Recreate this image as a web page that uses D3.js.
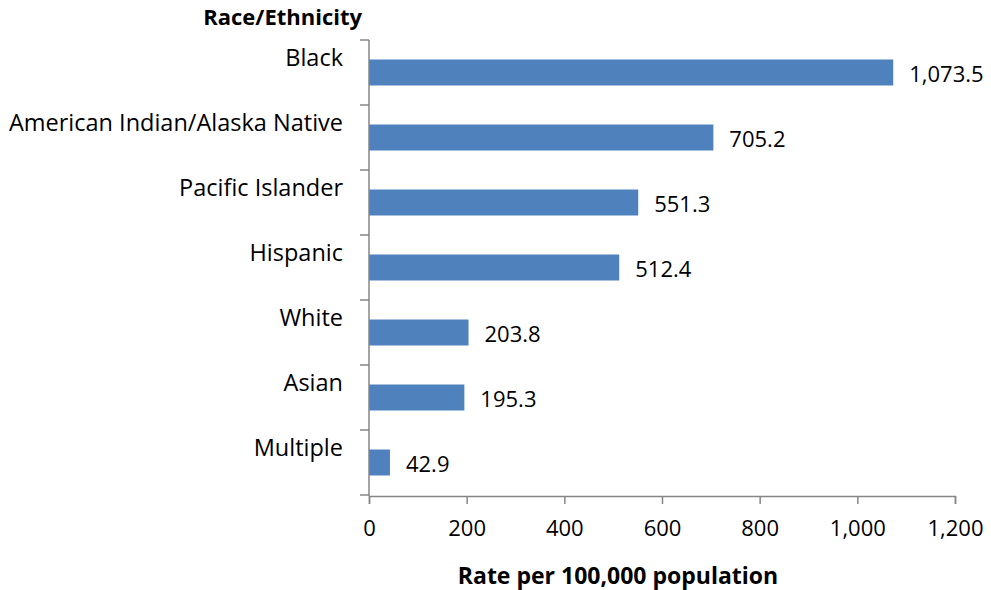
<!DOCTYPE html>
<html><head><meta charset="utf-8">
<script src="https://cdn.jsdelivr.net/npm/d3@7"></script>
<style>body{margin:0;background:#fff}svg{display:block}text{font-family:"Open Sans",sans-serif;fill:#000}</style>
</head><body>
<svg id="c" width="991" height="590"></svg>
<script>
const categories = ["Black","American Indian/Alaska Native","Pacific Islander","Hispanic","White","Asian","Multiple"];
const values = [1073.5,705.2,551.3,512.4,203.8,195.3,42.9];
const xTicks = [0,200,400,600,800,1000,1200];
const yTitle = "Race/Ethnicity";
const xTitle = "Rate per 100,000 population";

(function(){
const svg = d3.select("#c");
const L = 369, R = 955, T = 40, B = 495;
const FS = 22;
const x = d3.scaleLinear().domain([0,1200]).range([L,R]);
const y = d3.scaleBand().domain(categories).range([T,B]).paddingInner(0.6).paddingOuter(0.3);
const fmt = d3.format(",.1f");
const axisColor = "#868686";

svg.append("g").selectAll("rect").data(values).join("rect")
  .attr("x", x(0)).attr("y", (d,i)=>y(categories[i]))
  .attr("width", d=>x(d)-x(0)).attr("height", y.bandwidth())
  .attr("fill","#4F81BD");

svg.append("g").selectAll("text").data(values).join("text")
  .attr("x", d=>x(d)+16).attr("y",(d,i)=>y(categories[i])+y.bandwidth()/2+2)
  .attr("dy","0.35em").attr("font-size",FS).text(d=>fmt(d));

const xa = svg.append("g").attr("transform",`translate(0,${B+1})`)
  .call(d3.axisBottom(x).tickValues(xTicks).tickSize(8).tickPadding(16).tickFormat(d3.format(",")));
xa.selectAll("path,line").attr("stroke",axisColor).attr("stroke-width",1.5);
xa.selectAll("text").attr("font-size",FS).attr("font-family","'Open Sans',sans-serif").attr("fill","#000");

const bounds = d3.range(categories.length+1).map(i=>T+i*(B-T)/categories.length);
svg.append("line").attr("x1",L).attr("x2",L).attr("y1",T).attr("y2",B+1)
  .attr("stroke",axisColor).attr("stroke-width",1.5);
svg.append("g").selectAll("line").data(bounds).join("line")
  .attr("x1",L-9).attr("x2",L).attr("y1",d=>d).attr("y2",d=>d)
  .attr("stroke",axisColor).attr("stroke-width",1.5);

svg.append("g").selectAll("text").data(categories).join("text")
  .attr("x",343).attr("y",d=>y(d)+y.bandwidth()/2-15)
  .attr("dy","0.35em").attr("text-anchor","end").attr("font-size",23.5).text(d=>d);

svg.append("text").attr("x",362).attr("y",17).attr("dy","0.35em").attr("text-anchor","end")
  .attr("font-size",FS).attr("font-weight","bold").text(yTitle);
svg.append("text").attr("x",618).attr("y",576).attr("dy","0.35em").attr("text-anchor","middle")
  .attr("font-size",23).attr("font-weight","bold").text(xTitle);
})();
</script>
</body></html>
